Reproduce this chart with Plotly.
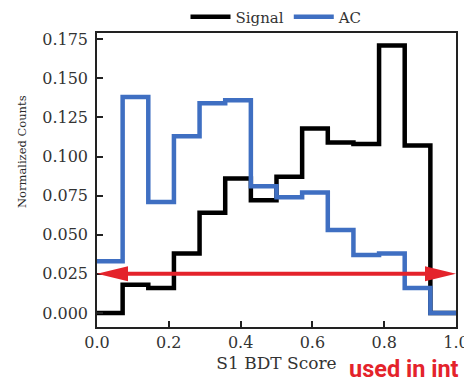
import plotly.graph_objects as go

# ---- data ----
bin_edges = [i / 14 for i in range(15)]
signal = [0.000, 0.018, 0.016, 0.038, 0.064, 0.086, 0.072, 0.087, 0.118, 0.109, 0.108, 0.171, 0.107, 0.000]
ac = [0.033, 0.138, 0.071, 0.113, 0.134, 0.136, 0.081, 0.074, 0.077, 0.053, 0.037, 0.038, 0.016, 0.000]
series_names = ["Signal", "AC"]
x_ticks = [0.0, 0.2, 0.4, 0.6, 0.8, 1.0]
y_ticks = [0.000, 0.025, 0.050, 0.075, 0.100, 0.125, 0.150, 0.175]
arrow_y = 0.025
arrow_x = [0.0, 1.0]
note_text = "used in int"
y_title = "Normalized Counts"
x_title = "S1 BDT Score"

W, H = 464, 382
ML, MR, MT, MB = 97, 8, 33, 55
x_range = [0.0, 1.0]
y_range = [-0.009, 0.179]

serif = "DejaVu Serif"
txt = "#333333"


def step_xy(edges, vals):
    x_out, y_out = [], []
    for i, v in enumerate(vals):
        x_out += [edges[i], edges[i + 1]]
        y_out += [v, v]
    x_out.append(edges[-1])
    y_out.append(0.0)
    return x_out, y_out


fig = go.Figure()
for name, vals, col in [(series_names[0], signal, "#000000"), (series_names[1], ac, "#3f6fc2")]:
    sx, sy = step_xy(bin_edges, vals)
    fig.add_trace(go.Scatter(x=sx, y=sy, mode="lines", name=name,
                             line=dict(color=col, width=4.5), cliponaxis=True))

# double-headed arrow at y=arrow_y
pw = W - ML - MR
ph = H - MT - MB
px_x = pw / (x_range[1] - x_range[0])
px_y = ph / (y_range[1] - y_range[0])
head_len = 31 / px_x
head_half = 7.5 / px_y
red = "#e4232b"
x0, x1 = arrow_x
shapes = [
    dict(type="line", xref="x", yref="y", x0=x0 + head_len * 0.8, x1=x1 - head_len * 0.8,
         y0=arrow_y, y1=arrow_y, line=dict(color=red, width=4), layer="above"),
    dict(type="path", xref="x", yref="y",
         path=f"M {x0} {arrow_y} L {x0 + head_len} {arrow_y + head_half} L {x0 + head_len} {arrow_y - head_half} Z",
         fillcolor=red, line=dict(color=red, width=0), layer="above"),
    dict(type="path", xref="x", yref="y",
         path=f"M {x1} {arrow_y} L {x1 - head_len} {arrow_y + head_half} L {x1 - head_len} {arrow_y - head_half} Z",
         fillcolor=red, line=dict(color=red, width=0), layer="above"),
]

fig.update_layout(
    width=W, height=H,
    margin=dict(l=ML, r=MR, t=MT, b=MB, pad=0, autoexpand=False),
    paper_bgcolor="white", plot_bgcolor="white",
    font=dict(family=serif, color=txt, size=15),
    shapes=shapes,
    showlegend=True,
    legend=dict(orientation="h", x=0.5, xanchor="center", y=1.0 + 16 / ph, yanchor="middle",
                font=dict(family=serif, size=15, color=txt), itemwidth=40,
                bgcolor="rgba(0,0,0,0)", tracegroupgap=0),
    annotations=[
        dict(text=f"<b>{note_text}</b>", xref="paper", yref="paper",
             x=(347 - ML) / pw, xanchor="left", y=-(353 - (H - MB)) / ph, yanchor="top",
             showarrow=False, font=dict(family="Roboto", size=23.5, color=red)),
        dict(text=y_title, xref="paper", yref="paper", textangle=-90,
             x=-(ML - 22) / pw, xanchor="center", y=(H - MB - 152) / ph, yanchor="middle",
             showarrow=False, font=dict(family=serif, size=11.5, color="#2a2a2a")),
    ],
)

fig.update_xaxes(range=x_range, tickvals=x_ticks, ticktext=[f"{v:.1f}" for v in x_ticks],
                 ticks="inside", ticklen=6, tickwidth=1.5, tickcolor="#222",
                 showline=True, linecolor="#222", linewidth=1.5, mirror=True,
                 showgrid=False, zeroline=False, ticklabeloverflow="allow", automargin=False,
                 tickfont=dict(family=serif, size=16, color=txt),
                 title=dict(text=x_title, font=dict(family=serif, size=17, color=txt), standoff=6))
fig.update_yaxes(range=y_range, tickvals=y_ticks, ticktext=[f"{v:.3f}" for v in y_ticks],
                 ticks="inside", ticklen=6, tickwidth=1.5, tickcolor="#222",
                 showline=True, linecolor="#222", linewidth=1.5, mirror=True,
                 showgrid=False, zeroline=False, ticklabelstandoff=4, automargin=False,
                 tickfont=dict(family=serif, size=16, color=txt))

fig.write_html("out.html")
